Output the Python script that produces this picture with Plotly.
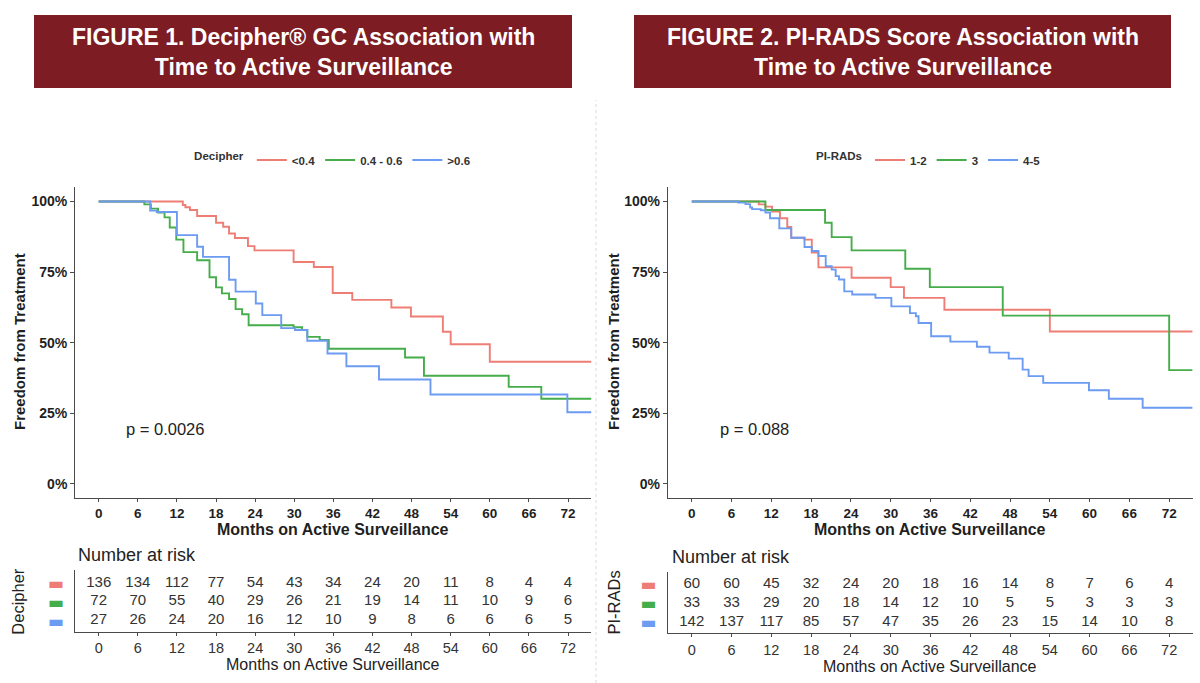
import plotly.graph_objects as go

# ---------------- data ----------------
months_ticks = [0, 6, 12, 18, 24, 30, 36, 42, 48, 54, 60, 66, 72]
pct_ticks = [0, 25, 50, 75, 100]
pct_labels = ["0%", "25%", "50%", "75%", "100%"]

# Figure 1: Decipher GC groups (step times in months, survival in %)
dec_labels = ["<0.4", "0.4 - 0.6", ">0.6"]
dec_low_t = [12.9, 13.3, 14.0, 15.1, 18.0, 19.1, 20.0, 20.9, 22.9, 23.9, 29.9, 33.0, 35.9, 38.9, 44.9, 47.9, 52.8, 54.0, 60.0, 75.6]
dec_low_s = [98.8, 98.0, 97.0, 94.9, 92.5, 91.1, 88.7, 87.1, 84.2, 82.7, 78.6, 76.8, 67.6, 65.2, 62.5, 59.3, 53.9, 49.5, 43.3, 43.3]
dec_mid_t = [7.0, 8.0, 9.1, 10.1, 10.9, 11.9, 13.0, 15.1, 17.0, 18.0, 18.9, 20.0, 21.0, 22.0, 23.0, 29.9, 31.2, 32.0, 33.9, 35.3, 47.0, 49.9, 62.9, 67.9, 75.6]
dec_mid_s = [99.0, 97.5, 96.1, 94.4, 90.8, 86.5, 82.1, 79.2, 73.2, 69.6, 67.5, 65.5, 61.9, 60.1, 56.2, 55.5, 54.5, 52.1, 51.0, 47.9, 44.8, 38.3, 34.4, 30.2, 30.2]
dec_high_t = [7.9, 8.9, 12.0, 15.1, 16.0, 20.0, 21.0, 24.1, 25.1, 28.0, 30.1, 32.0, 35.1, 38.0, 43.0, 50.9, 71.9, 75.6]
dec_high_s = [96.8, 96.3, 88.1, 84.0, 80.4, 72.3, 68.1, 63.9, 59.8, 55.2, 54.5, 50.7, 46.2, 41.7, 37.0, 31.7, 25.4, 25.4]
dec_risk_low = [136, 134, 112, 77, 54, 43, 34, 24, 20, 11, 8, 4, 4]
dec_risk_mid = [72, 70, 55, 40, 29, 26, 21, 19, 14, 11, 10, 9, 6]
dec_risk_high = [27, 26, 24, 20, 16, 12, 10, 9, 8, 6, 6, 6, 5]

# Figure 2: PI-RADS groups
pir_labels = ["1-2", "3", "4-5"]
pir_12_t = [10.1, 11.1, 12.1, 13.3, 14.4, 15.0, 17.0, 18.1, 19.1, 24.1, 30.0, 32.0, 38.1, 54.0, 75.5]
pir_12_s = [99.0, 98.2, 96.5, 94.1, 91.0, 87.2, 86.5, 81.9, 76.7, 73.0, 69.7, 65.9, 61.7, 54.0, 54.0]
pir_3_t = [11.1, 20.1, 21.1, 24.1, 32.2, 35.9, 46.9, 72.0, 75.5]
pir_3_s = [97.0, 92.5, 87.4, 82.7, 76.2, 69.7, 59.6, 40.3, 40.3]
pir_45_t = [7.0, 8.1, 8.8, 9.1, 10.4, 11.1, 11.8, 13.2, 15.0, 17.0, 18.1, 19.1, 20.2, 21.1, 21.7, 22.2, 23.0, 24.2, 27.7, 30.1, 32.9, 33.8, 34.2, 36.1, 39.0, 43.0, 44.9, 47.8, 49.9, 50.8, 53.0, 59.9, 62.9, 68.0, 75.5]
pir_45_s = [99.6, 99.1, 97.9, 97.3, 96.9, 96.1, 94.1, 90.5, 87.2, 83.9, 82.5, 80.7, 77.1, 75.9, 73.6, 72.4, 68.2, 67.1, 65.9, 62.9, 60.5, 59.4, 57.0, 52.3, 50.4, 48.6, 46.5, 44.4, 40.5, 38.2, 35.8, 33.2, 30.2, 27.0, 27.0]
pir_risk_12 = [60, 60, 45, 32, 24, 20, 18, 16, 14, 8, 7, 6, 4]
pir_risk_3 = [33, 33, 29, 20, 18, 14, 12, 10, 5, 5, 3, 3, 3]
pir_risk_45 = [142, 137, 117, 85, 57, 47, 35, 26, 23, 15, 14, 10, 8]

p_values = ["p = 0.0026", "p = 0.088"]
headers = ["FIGURE 1. Decipher\u00ae GC Association with<br>Time to Active Surveillance",
           "FIGURE 2. PI-RADS Score Association with<br>Time to Active Surveillance"]

# ---------------- style ----------------
COLORS = ["#EE7D75", "#45AD4A", "#6C9BF2"]
MAROON = "#7D1C23"
FONT = "Liberation Sans, Arial, sans-serif"
DARK = "#1f1f1f"
AXC = "#4a4a4a"
XR = [-3.6, 75.6]

fig = go.Figure()

def km(t, s, color, name, xa, ya, legend):
    fig.add_trace(go.Scatter(
        x=[0] + t, y=[100] + s, mode="lines", line=dict(color=color, width=1.9, shape="hv"),
        name=name, xaxis=xa, yaxis=ya, legend=legend, hoverinfo="skip"))

for t, s, c, n in zip([dec_low_t, dec_mid_t, dec_high_t], [dec_low_s, dec_mid_s, dec_high_s], COLORS, dec_labels):
    km(t, s, c, n, "x", "y", "legend")
for t, s, c, n in zip([pir_12_t, pir_3_t, pir_45_t], [pir_12_s, pir_3_s, pir_45_s], COLORS, pir_labels):
    km(t, s, c, n, "x2", "y2", "legend2")

def risk(vals, row, xa, ya):
    fig.add_trace(go.Scatter(
        x=months_ticks, y=[row] * len(vals), mode="text", text=[str(v) for v in vals],
        textfont=dict(family=FONT, size=15, color="#333333"), showlegend=False,
        xaxis=xa, yaxis=ya, cliponaxis=False, hoverinfo="skip"))

for vals, row in zip([dec_risk_low, dec_risk_mid, dec_risk_high], [3, 2, 1]):
    risk(vals, row, "x3", "y3")
for vals, row in zip([pir_risk_12, pir_risk_3, pir_risk_45], [3, 2, 1]):
    risk(vals, row, "x4", "y4")

km_x = dict(range=XR, tickvals=months_ticks, showline=True, linecolor=AXC, linewidth=1.2,
            ticks="outside", ticklen=3, tickcolor=AXC, showgrid=False, zeroline=False,
            tickfont=dict(family=FONT, size=13.5, color=DARK, weight="bold"))
km_y = dict(range=[-5, 105], tickvals=pct_ticks, ticktext=pct_labels, showline=True, linecolor=AXC,
            linewidth=1.2, ticks="outside", ticklen=4, tickcolor=AXC, showgrid=False, zeroline=False,
            tickfont=dict(family=FONT, size=14, color=DARK, weight="bold"), domain=[0.2707, 0.7256])
rk_x = dict(range=XR, tickvals=months_ticks, showline=True, linecolor=AXC, linewidth=1.2,
            ticks="outside", ticklen=3, tickcolor=AXC, showgrid=False, zeroline=False,
            tickfont=dict(family=FONT, size=14.5, color="#333333"))
bars = ['<span style="color:%s">\u25ac</span>' % c for c in COLORS[::-1]]
rk_y = dict(range=[0.42, 3.67], tickvals=[1, 2, 3], ticktext=bars, showline=True, linecolor=AXC,
            linewidth=1.2, ticks="", showgrid=False, zeroline=False, ticklabelstandoff=7,
            tickfont=dict(family="DejaVu Sans", size=17))

fig.update_layout(
    xaxis=dict(km_x, domain=[0.0627, 0.4929], anchor="y"),
    yaxis=dict(km_y, anchor="x"),
    xaxis2=dict(km_x, domain=[0.5566, 0.9942], anchor="y2"),
    yaxis2=dict(km_y, anchor="x2"),
    xaxis3=dict(rk_x, domain=[0.0627, 0.4929], anchor="y3"),
    yaxis3=dict(rk_y, domain=[0.0751, 0.1654], anchor="x3"),
    xaxis4=dict(rk_x, domain=[0.5566, 0.9942], anchor="y4"),
    yaxis4=dict(rk_y, domain=[0.0732, 0.1630], anchor="x4"),
)

leg = dict(orientation="h", xanchor="center", yanchor="middle", y=1 - 160 / 683,
           font=dict(family=FONT, size=11.5, color="#333333", weight="bold"),
           itemwidth=30, bgcolor="rgba(0,0,0,0)", tracegroupgap=0)
fig.update_layout(
    legend=dict(leg, x=0.278, title=dict(text="<b>Decipher</b>", font=dict(family=FONT, size=11.5, color="#333333"))),
    legend2=dict(leg, x=0.775, title=dict(text="<b>PI-RADs</b>", font=dict(family=FONT, size=11.5, color="#333333"))),
)

def px2y(py):
    return 1 - py / 683

ann = []
shapes = []
# header boxes and text
for (x0, x1), txt in zip([(34, 572), (634, 1171)], headers):
    shapes.append(dict(type="rect", xref="paper", yref="paper", x0=x0 / 1200, x1=x1 / 1200,
                       y0=px2y(88), y1=px2y(15), fillcolor=MAROON, line=dict(width=0), layer="below"))
    ann.append(dict(text="<b>" + txt + "</b>", xref="paper", yref="paper", x=(x0 + x1) / 2400,
                    y=px2y(52), showarrow=False, font=dict(family=FONT, size=23, color="white"),
                    xanchor="center", yanchor="middle", align="center"))
# separator
shapes.append(dict(type="line", xref="paper", yref="paper", x0=596 / 1200, x1=596 / 1200,
                   y0=0.0, y1=px2y(100), line=dict(color="#d9d9d9", width=1, dash="dot")))

def txt_ann(text, x, y, size, color, bold=False, angle=0, xanchor="center"):
    ann.append(dict(text=("<b>%s</b>" % text) if bold else text, xref="paper", yref="paper",
                    x=x / 1200, y=px2y(y), xanchor=xanchor, yanchor="middle", textangle=angle,
                    showarrow=False, font=dict(family=FONT, size=size, color=color)))

# KM axis titles
for x, y in [(19, 342), (613, 342)]:
    txt_ann("Freedom from Treatment", x, y, 15, DARK, bold=True, angle=-90)
for x, y in [(333, 529), (930, 529)]:
    txt_ann("Months on Active Surveillance", x, y, 16, DARK, bold=True)
# p values
for txt, xa, ya in [(p_values[0], "x", "y"), (p_values[1], "x2", "y2")]:
    ann.append(dict(text=txt, xref=xa, yref=ya, x=3.9, y=19.4, xanchor="left", yanchor="middle",
                    showarrow=False, font=dict(family=FONT, size=16.5, color="#222222")))
# risk table titles
for x, y in [(76, 555), (670, 556.5)]:
    txt_ann("Number at risk", x, y, 18, "#222222", xanchor="left")
for x, y in [(333, 664), (930, 666)]:
    txt_ann("Months on Active Surveillance", x, y, 16, "#222222")
for t, x, y in [("Decipher", 18, 601.7), ("PI-RADs", 613, 602.5)]:
    txt_ann(t, x, y, 16.5, "#222222", angle=-90)

fig.update_layout(
    annotations=ann, shapes=shapes,
    width=1200, height=683, margin=dict(l=0, r=0, t=0, b=0, autoexpand=False),
    paper_bgcolor="white", plot_bgcolor="white", showlegend=True,
    font=dict(family=FONT),
)

fig.write_html("out.html", config={"displayModeBar": False})
